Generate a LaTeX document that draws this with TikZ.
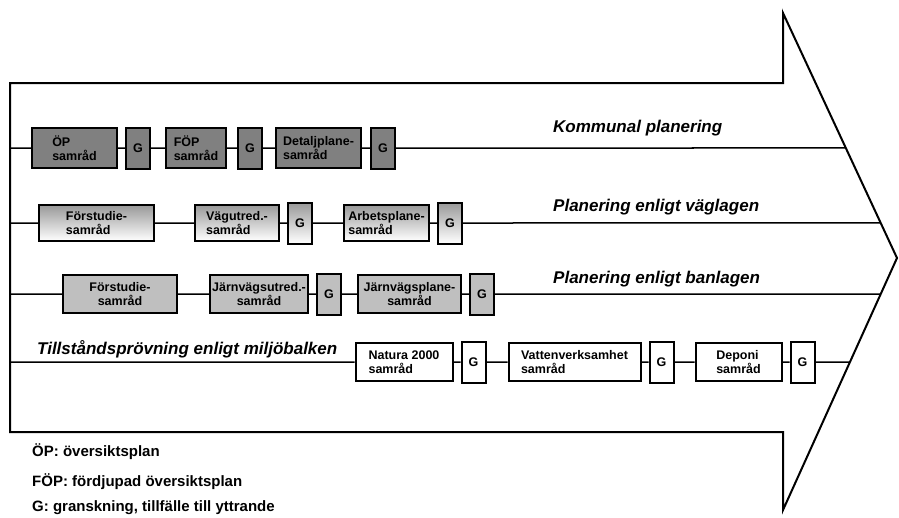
\documentclass[tikz,border=0pt]{standalone}
\usepackage{fontspec}
\setmainfont{Liberation Sans}
\usetikzlibrary{positioning, calc}

\begin{document}
\begin{tikzpicture}[
        x=1pt, y=-1pt,
        % Box styles
        stage/.style={rectangle, draw=black, line width=2pt, inner sep=2pt, align=left, font=\fontsize{12.5}{14}\selectfont\bfseries},
        kbox/.style={stage, fill=black!50, minimum height=40pt},
        vbox/.style={stage, top color=black!40, bottom color=white, minimum height=36pt},
        bbox/.style={stage, fill=black!25, minimum height=38pt, align=center},
        mbox/.style={stage, fill=white, minimum height=38pt},
        gbox/.style={minimum width=24pt, minimum height=41pt},
        rowline/.style={draw, line width=1.5pt},
        rowlabel/.style={anchor=west, inner sep=0pt, font=\fontsize{17}{19}\selectfont\bfseries\itshape},
        legend/.style={anchor=west, inner sep=0pt, font=\fontsize{15}{17}\selectfont\bfseries}
    ]

    \useasboundingbox (0,0) rectangle (899,517);

    % --- THE BIG ARROW ---
    \coordinate (ht) at (783,13);
    \coordinate (tip) at (897,258);
    \coordinate (hb) at (783,510);
    \draw [line width=2pt, line join=miter] (10,83) -- (783,83) -- (ht) -- (tip) -- (hb) -- (783,432) -- (10,432) -- cycle;

    % --- ROW 1: KOMMUNAL PLANERING ---
    \coordinate (k0) at (10,148);
    \coordinate (k9) at ($(ht)!0.551!(tip)$);
    \node (k1) [kbox, minimum width=85pt] at (74.5,148) {ÖP\\samråd};
    \node (k2) [kbox, gbox, right=7pt of k1] {G};
    \node (k3) [kbox, minimum width=60pt, right=14pt of k2] {FÖP\\samråd};
    \node (k4) [kbox, gbox, right=10pt of k3] {G};
    \node (k5) [kbox, minimum width=85pt, right=12pt of k4] {Detaljplane-\\samråd};
    \node (k6) [kbox, gbox, right=8pt of k5] {G};
    \node (klabel) [rowlabel] at (553,128) {Kommunal planering};

    % --- ROW 2: VAEGLAGEN ---
    \coordinate (v0) at (10,223);
    \coordinate (v9) at ($(ht)!0.857!(tip)$);
    \node (v1) [vbox, minimum width=115pt] at (96.5,223) {Förstudie-\\samråd};
    \node (v2) [vbox, minimum width=84pt, right=39pt of v1] {Vägutred.-\\samråd};
    \node (v3) [vbox, gbox, right=7pt of v2] {G};
    \node (v4) [vbox, minimum width=85pt, right=30pt of v3] {Arbetsplane-\\samråd};
    \node (v5) [vbox, gbox, right=7pt of v4] {G};
    \node (vlabel) [rowlabel] at (553,207) {Planering enligt väglagen};

    % --- ROW 3: BANLAGEN ---
    \coordinate (b0) at (10,294);
    \coordinate (b9) at ($(tip)!0.143!(hb)$);
    \node (b1) [bbox, minimum width=114pt] at (120,294) {Förstudie-\\samråd};
    \node (b2) [bbox, minimum width=98pt, right=31pt of b1] {Järnvägsutred.-\\samråd};
    \node (b3) [bbox, gbox, right=7pt of b2] {G};
    \node (b4) [bbox, minimum width=103pt, right=15pt of b3] {Järnvägsplane-\\samråd};
    \node (b5) [bbox, gbox, right=7pt of b4] {G};
    \node (blabel) [rowlabel] at (553,279) {Planering enligt banlagen};

    % --- ROW 4: MILJOEBALKEN ---
    \coordinate (m0) at (10,362);
    \coordinate (m9) at ($(tip)!0.413!(hb)$);
    \node (m1) [mbox, minimum width=97pt] at (404,362) {Natura 2000\\samråd};
    \node (m2) [mbox, gbox, right=7pt of m1] {G};
    \node (m3) [mbox, minimum width=132pt, right=21pt of m2] {Vattenverksamhet\\samråd};
    \node (m4) [mbox, gbox, right=7pt of m3] {G};
    \node (m5) [mbox, minimum width=86pt, right=20pt of m4] {Deponi\\samråd};
    \node (m6) [mbox, gbox, right=7pt of m5] {G};
    \node (mlabel) [rowlabel] at (37,349) {Tillståndsprövning enligt miljöbalken};

    % --- DRAWING THE CONNECTING LINES ---
    \draw [rowline] (k0) -- (k1) (k1) -- (k2) (k2) -- (k3) (k3) -- (k4) (k4) -- (k5) (k5) -- (k6) (k6) -- (k9);
    \draw [rowline] (v0) -- (v1) (v1) -- (v2) (v2) -- (v3) (v3) -- (v4) (v4) -- (v5) (v5) -- (v9);
    \draw [rowline] (b0) -- (b1) (b1) -- (b2) (b2) -- (b3) (b3) -- (b4) (b4) -- (b5) (b5) -- (b9);
    \draw [rowline] (m0) -- (m1) (m1) -- (m2) (m2) -- (m3) (m3) -- (m4) (m4) -- (m5) (m5) -- (m6) (m6) -- (m9);

    % --- LEGEND ---
    \node (leg1) [legend] at (32,452) {ÖP: översiktsplan};
    \node (leg2) [legend] at (32,482) {FÖP: fördjupad översiktsplan};
    \node (leg3) [legend] at (32,508) {G: granskning, tillfälle till yttrande};

\end{tikzpicture}
\end{document}
